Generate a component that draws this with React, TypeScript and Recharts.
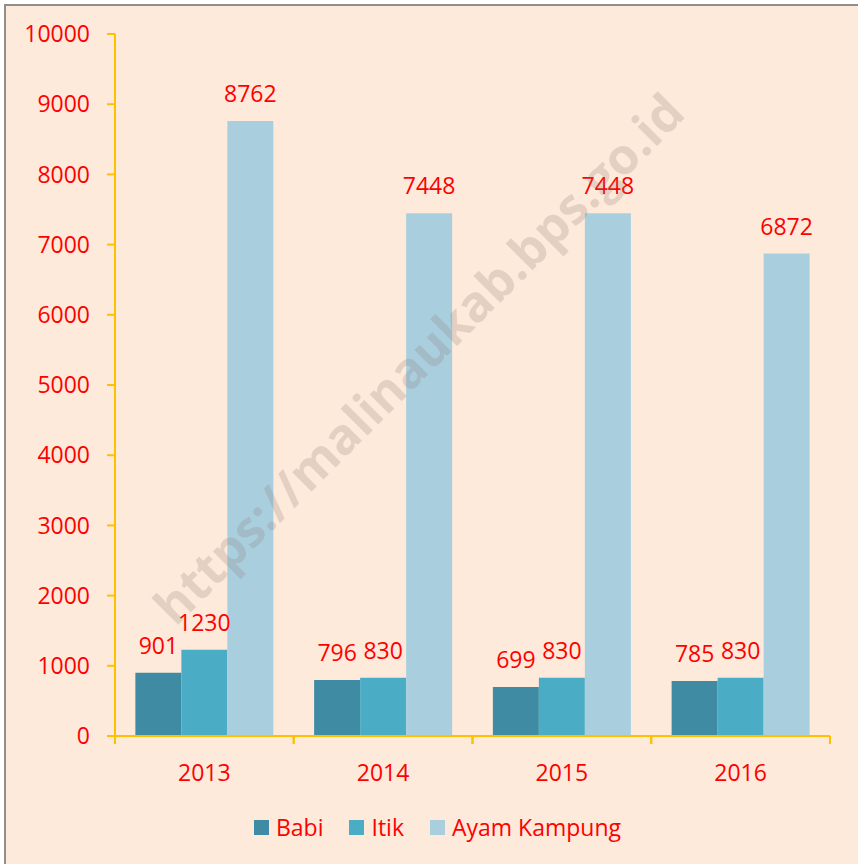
import React from 'react';
import { BarChart, Bar, XAxis, YAxis, Legend, LabelList } from 'recharts';

const years = ['2013', '2014', '2015', '2016'];
const babi = [901, 796, 699, 785];
const itik = [1230, 830, 830, 830];
const ayamKampung = [8762, 7448, 7448, 6872];
const yTicks = [0, 1000, 2000, 3000, 4000, 5000, 6000, 7000, 8000, 9000, 10000];

const seriesInfo = [
  { key: 'babi', name: 'Babi', color: '#3E8BA3' },
  { key: 'itik', name: 'Itik', color: '#4BACC6' },
  { key: 'ayam', name: 'Ayam Kampung', color: '#A9CFDF' },
];

const FONT = '"Open Sans", sans-serif';
const RED = '#FF0000';
const GOLD = '#FFC000';

const CHART_W = 858;
const CHART_H = 864;
const MARGIN = { top: 34, right: 28, left: 15, bottom: 28 };
const Y_AXIS_W = 100;
const TICK_SIZE = 8;
const TICK_MARGIN = 21;
const HALF_BAND = (CHART_W - MARGIN.left - MARGIN.right - Y_AXIS_W) / years.length / 2;

const data = years.map((year, i) => ({
  year,
  babi: babi[i],
  itik: itik[i],
  ayam: ayamKampung[i],
}));

// category ticks sit between the groups, like in excel
function YearTick(props: any) {
  const { x, y, payload } = props;
  const axisY = y - TICK_SIZE - TICK_MARGIN;
  return (
    <g>
      <line x1={x - HALF_BAND} x2={x - HALF_BAND} y1={axisY} y2={axisY + TICK_SIZE} stroke={GOLD} strokeWidth={2} />
      <line x1={x + HALF_BAND} x2={x + HALF_BAND} y1={axisY} y2={axisY + TICK_SIZE} stroke={GOLD} strokeWidth={2} />
      <text x={x} y={y} dy="0.71em" textAnchor="middle" fill={RED} fontSize={23} fontFamily={FONT}>
        {payload.value}
      </text>
    </g>
  );
}

function LegendContent() {
  return (
    <div
      style={{
        height: 40,
        display: 'flex',
        justifyContent: 'center',
        alignItems: 'center',
        fontFamily: FONT,
        fontSize: 23,
        color: RED,
        paddingLeft: 56,
      }}
    >
      {seriesInfo.map((s) => (
        <div key={s.key} style={{ display: 'flex', alignItems: 'center', marginRight: 26 }}>
          <span style={{ width: 15, height: 15, background: s.color, marginRight: 7, display: 'inline-block' }} />
          <span>{s.name}</span>
        </div>
      ))}
    </div>
  );
}

export default function App() {
  return (
    <div style={{ position: 'absolute', left: 0, top: 0, width: CHART_W, height: CHART_H, overflow: 'hidden', background: '#fff' }}>
      <div
        style={{
          position: 'absolute',
          left: 4,
          top: 4,
          width: 870,
          height: 880,
          background: '#FDEADA',
          borderLeft: '2px solid #8E8E8E',
          borderTop: '2px solid #8E8E8E',
        }}
      />
      <div style={{ position: 'absolute', left: 0, top: 0 }}>
        <BarChart
          width={CHART_W}
          height={CHART_H}
          data={data}
          margin={MARGIN}
          barCategoryGap="11.4%"
          barGap={0}
        >
          <XAxis
            dataKey="year"
            height={60}
            axisLine={{ stroke: GOLD, strokeWidth: 2 }}
            tickLine={false}
            tickSize={TICK_SIZE}
            tickMargin={TICK_MARGIN}
            tick={<YearTick />}
          />
          <YAxis
            domain={[0, 10000]}
            ticks={yTicks}
            width={Y_AXIS_W}
            axisLine={{ stroke: GOLD, strokeWidth: 2 }}
            tickLine={{ stroke: GOLD, strokeWidth: 2 }}
            tickSize={8}
            tickMargin={17}
            tick={{ fill: RED, fontSize: 23, fontFamily: FONT }}
          />
          <Legend verticalAlign="bottom" content={<LegendContent />} wrapperStyle={{ bottom: 17 }} />
          {seriesInfo.map((s) => (
            <Bar key={s.key} dataKey={s.key} name={s.name} fill={s.color} isAnimationActive={false}>
              <LabelList
                dataKey={s.key}
                position="top"
                offset={19}
                fill={RED}
                fontSize={23}
                fontFamily={FONT}
              />
            </Bar>
          ))}
        </BarChart>
      </div>
      <div
        style={{
          position: 'absolute',
          left: 418,
          top: 358,
          transform: 'translate(-50%, -50%) rotate(-45deg)',
          fontFamily: FONT,
          fontWeight: 700,
          fontSize: 50,
          color: 'rgba(140,120,110,0.22)',
          whiteSpace: 'nowrap',
          pointerEvents: 'none',
        }}
      >
        https://malinaukab.bps.go.id
      </div>
    </div>
  );
}
